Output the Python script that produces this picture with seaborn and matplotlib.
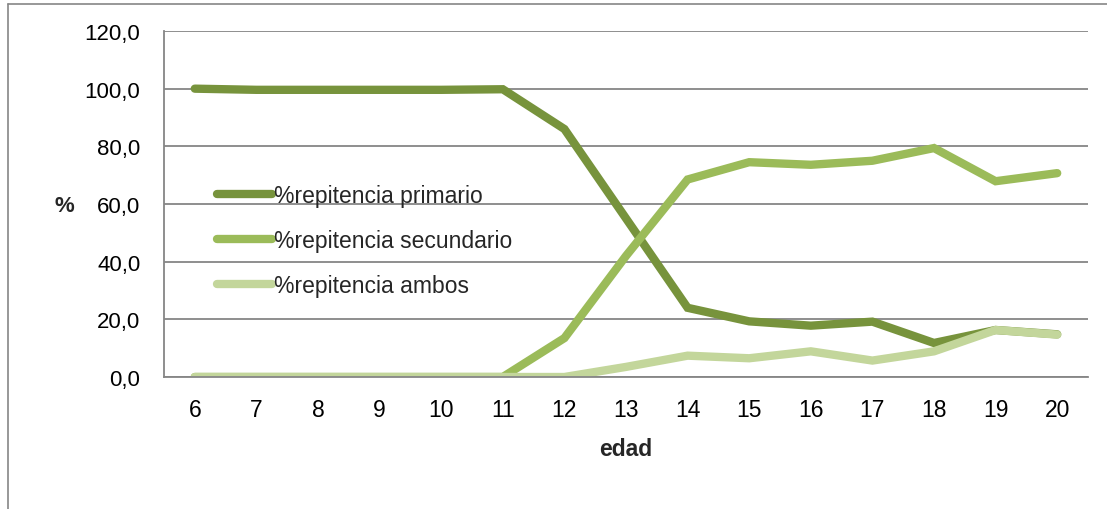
import matplotlib
matplotlib.use("Agg")
import matplotlib.pyplot as plt
from matplotlib.lines import Line2D
from matplotlib.ticker import FuncFormatter, MultipleLocator, FixedLocator
import seaborn as sns
import pandas as pd
import numpy as np

edad = list(range(6, 21))
primario = [100.0, 99.6, 99.6, 99.6, 99.6, 99.8, 86.0, 55.0, 24.0, 19.3, 17.8, 19.2, 11.8, 16.3, 14.8]
secundario = [0.0, 0.0, 0.0, 0.0, 0.0, 0.0, 13.5, 42.0, 68.5, 74.5, 73.6, 75.0, 79.4, 67.9, 70.7]
ambos = [0.0, 0.0, 0.0, 0.0, 0.0, 0.0, 0.0, 3.5, 7.4, 6.5, 8.9, 5.7, 8.9, 16.3, 14.7]
series_names = ["%repitencia primario", "%repitencia secundario", "%repitencia ambos"]
colors = ["#77933C", "#9BBB59", "#C3D69B"]

df = pd.DataFrame({
    "edad": edad * 3,
    "valor": primario + secundario + ambos,
    "serie": [series_names[0]] * len(edad) + [series_names[1]] * len(edad) + [series_names[2]] * len(edad),
})

sns.set_style("white")
plt.rcParams["font.family"] = ["Liberation Sans", "DejaVu Sans"]

fig = plt.figure(figsize=(11.07, 5.10), dpi=100)
ax = fig.add_axes([164 / 1107, 1 - 378 / 510, 924 / 1107, 346 / 510])

sns.lineplot(data=df, x="edad", y="valor", hue="serie", palette=colors,
             hue_order=series_names, linewidth=6, legend=False, ax=ax,
             solid_capstyle="round", solid_joinstyle="miter")

ax.set_xlim(5.5, 20.5)
ax.set_ylim(0, 120)
ax.yaxis.set_major_locator(MultipleLocator(20))
ax.yaxis.set_major_formatter(FuncFormatter(lambda v, p: f"{v:.1f}".replace(".", ",")))
ax.xaxis.set_major_locator(FixedLocator(edad))
ax.set_xticklabels([str(e) for e in edad])
ax.xaxis.set_minor_locator(FixedLocator(np.arange(5.5, 21, 1)))

grey = "#868686"
ax.grid(axis="y", color=grey, linewidth=1.3)
ax.set_axisbelow(True)
for s in ["top", "right"]:
    ax.spines[s].set_visible(False)
for s in ["left", "bottom"]:
    ax.spines[s].set_color(grey)
    ax.spines[s].set_linewidth(1.3)

ax.tick_params(axis="x", which="major", length=0, pad=15, labelsize=16.5, labelcolor="black")
ax.tick_params(axis="x", which="minor", length=8, width=1.3, color=grey, direction="out")
ax.tick_params(axis="y", which="major", length=8, width=1.3, color=grey, direction="out",
               pad=9, labelsize=16, labelcolor="black")

ax.set_xlabel("edad", fontsize=16.5, fontweight="bold", labelpad=12)
ax.set_ylabel("")
fig.text(64 / 1107, 1 - 206 / 510, "%", fontsize=16, fontweight="bold", ha="center", va="center")

handles = [Line2D([0], [0], color=c, linewidth=6, solid_capstyle="round") for c in colors]
ax.legend(handles, series_names, loc="upper left", bbox_to_anchor=(0.057, 0.559),
          frameon=False, fontsize=16.5, handlelength=2.4, handletextpad=0.1,
          labelspacing=0.96, borderpad=0, borderaxespad=0)

# outer chart border (top and left)
fig.add_artist(Line2D([7.5 / 1107, 7.5 / 1107], [0, 1 - 4.5 / 510], color=grey, linewidth=1.2,
                      transform=fig.transFigure))
fig.add_artist(Line2D([7.5 / 1107, 1], [1 - 4.5 / 510, 1 - 4.5 / 510], color=grey, linewidth=1.2,
                      transform=fig.transFigure))

fig.savefig("out.png", dpi=100)
